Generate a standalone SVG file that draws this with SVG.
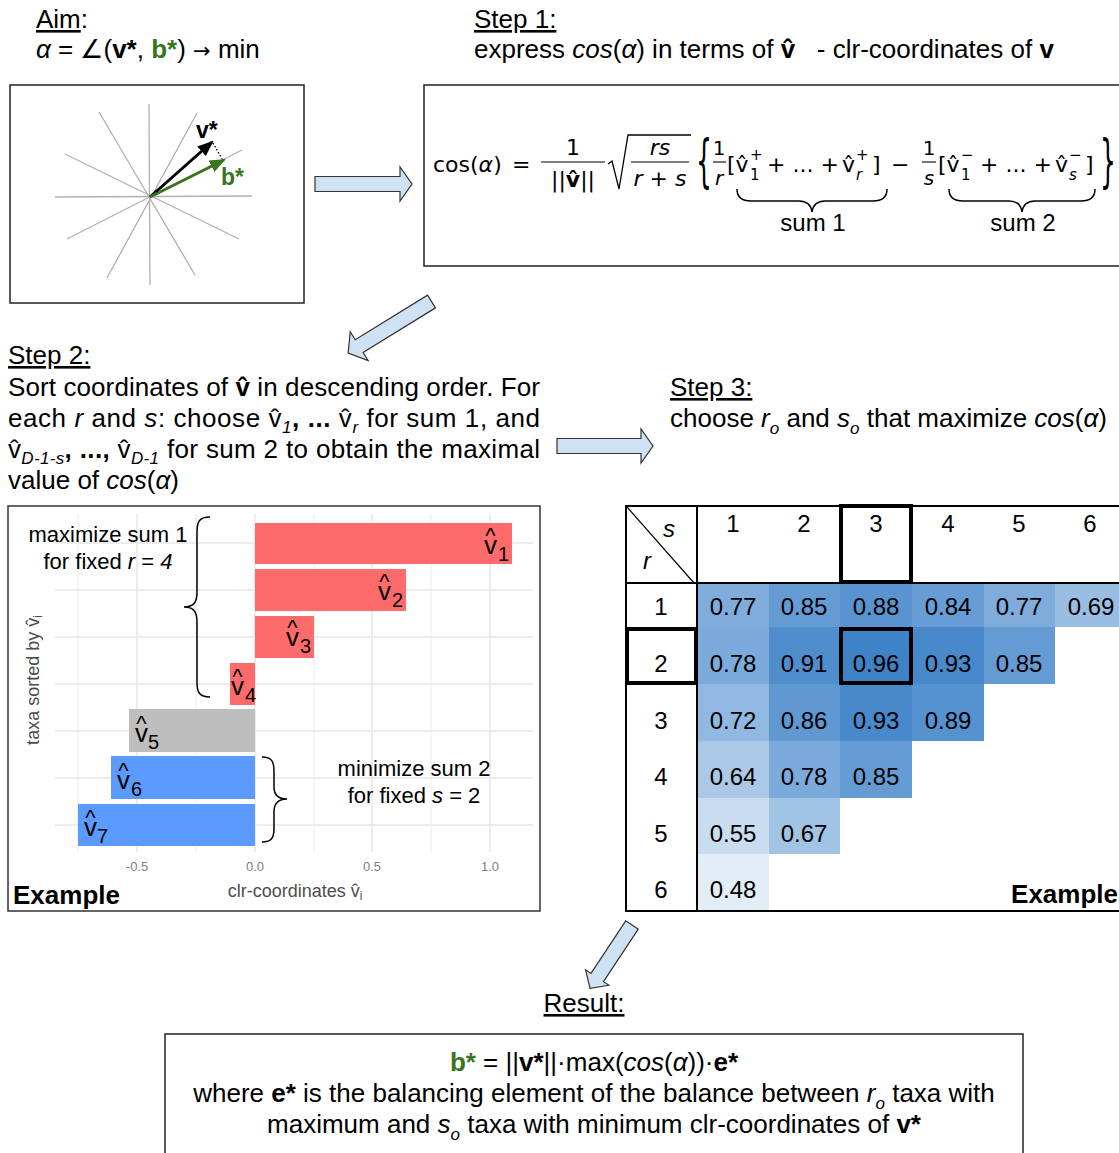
<svg xmlns="http://www.w3.org/2000/svg" width="1119" height="1153" viewBox="0 0 1119 1153">
  <defs>
    <style>
      text { font-family: "Liberation Sans", Arial, sans-serif; font-size: 26px; fill: #000; }
      .b { font-weight: bold; }
      .i { font-style: italic; }
      .g { fill: #38761d; }
      .sub { font-size: 17px; }
      .dv { font-family: "DejaVu Sans", Verdana, sans-serif; font-size: 21px; }
      .f { font-family: "DejaVu Sans", Verdana, sans-serif; font-size: 22px; }
      .fsm { font-family: "DejaVu Sans", Verdana, sans-serif; font-size: 20px; }
      .fs { font-family: "DejaVu Sans", Verdana, sans-serif; font-size: 15px; }
      .fb { font-family: "DejaVu Sans", Verdana, sans-serif; font-size: 25px; }
      .box { fill: none; stroke: #222; stroke-width: 1.5; }
      .arrow { fill: #cfe2f3; stroke: #333; stroke-width: 1.2; stroke-linejoin: miter; }
      .ray { stroke: #b0b0b0; stroke-width: 1.3; }
      .grid { stroke: #ececec; stroke-width: 1; }
      .gridM { stroke: #e6e6e6; stroke-width: 1.4; }
      .tick { font-size: 13px; fill: #808080; text-anchor: middle; }
      .axis { font-size: 18px; fill: #4d4d4d; }
      .lv { font-size: 26px; }
      .lh { font-size: 22px; }
      .ls { font-size: 20px; }
      .note { font-size: 22px; text-anchor: middle; }
      .vec { font-size: 23px; font-weight: bold; }
      .sum { font-size: 24px; text-anchor: middle; }
      .brace { fill: none; stroke: #000; stroke-width: 1.5; }
      .tbl { stroke: #000; stroke-width: 2; fill: none; }
      .hl { stroke: #000; stroke-width: 4; fill: none; }
      .num { font-size: 24px; text-anchor: middle; }
      .mid { text-anchor: middle; }
    </style>
    <marker id="headK" markerUnits="userSpaceOnUse" markerWidth="16" markerHeight="13" refX="14" refY="6.5" orient="auto">
      <path d="M0,0 L16,6.5 L0,13 Z" fill="#000"/>
    </marker>
    <marker id="headG" markerUnits="userSpaceOnUse" markerWidth="16" markerHeight="13" refX="14" refY="6.5" orient="auto">
      <path d="M0,0 L16,6.5 L0,13 Z" fill="#38761d"/>
    </marker>
  </defs>

  <rect width="1119" height="1153" fill="#fff"/>

  <!-- Aim -->
  <g id="aim">
    <text x="36" y="28"><tspan text-decoration="underline">Aim</tspan>:</text>
    <text x="36" y="58"><tspan class="i">α</tspan> = ∠(<tspan class="b">v*</tspan>, <tspan class="b g">b*</tspan>) <tspan class="dv">→</tspan> min</text>
    <rect class="box" x="10" y="85" width="294" height="218" stroke="#000"/>
    <line class="ray" x1="149" y1="104" x2="150" y2="285"/>
    <line class="ray" x1="55" y1="197" x2="252" y2="196"/>
    <line class="ray" x1="99" y1="112" x2="195" y2="275"/>
    <line class="ray" x1="65" y1="154" x2="239" y2="239"/>
    <line class="ray" x1="67" y1="239" x2="242" y2="150"/>
    <line class="ray" x1="107" y1="278" x2="197" y2="113"/>
    <line x1="213" y1="143" x2="222" y2="159" stroke="#000" stroke-width="1.3" stroke-dasharray="1.5,2"/>
    <line x1="150" y1="197" x2="212" y2="142" stroke="#000" stroke-width="3" marker-end="url(#headK)"/>
    <line x1="150" y1="197" x2="224" y2="160" stroke="#38761d" stroke-width="3" marker-end="url(#headG)"/>
    <text class="vec" x="196" y="138">v*</text>
    <text class="vec g" x="221" y="185">b*</text>
  </g>

  <!-- Step 1 -->
  <g id="step1">
    <text x="474" y="28" text-decoration="underline">Step 1:</text>
    <text x="474" y="58">express <tspan class="i">cos</tspan>(<tspan class="i">α</tspan>) in terms of <tspan class="b">v̂</tspan>&#160;&#160; - clr-coordinates of <tspan class="b">v</tspan></text>
    <rect class="box" x="424" y="85" width="710" height="181"/>
    <!-- cos(α) = 1/||v̂|| · sqrt(rs/(r+s)) · {…} -->
    <text class="f" x="433" y="172">cos(<tspan font-style="italic">α</tspan>)</text>
    <text class="f" x="512" y="172">=</text>
    <text class="f mid" x="573" y="155">1</text>
    <line x1="541" y1="162" x2="605" y2="162" stroke="#000" stroke-width="1.2"/>
    <text class="f mid" x="573" y="187">||<tspan font-weight="bold">v̂</tspan>||</text>
    <path d="M608,164 L612,161 L619,189 L628,135 L691,135" fill="none" stroke="#000" stroke-width="1.3"/>
    <text class="f mid i" x="660" y="155">rs</text>
    <line x1="631" y1="162" x2="689" y2="162" stroke="#000" stroke-width="1.2"/>
    <text class="f mid" x="660" y="186"><tspan font-style="italic">r</tspan> + <tspan font-style="italic">s</tspan></text>
    <text class="fb" transform="translate(696,180) scale(1,2.25)">{</text>
    <text class="fsm mid" x="719" y="155">1</text>
    <line x1="713" y1="162" x2="726" y2="162" stroke="#000" stroke-width="1.1"/>
    <text class="fsm mid i" x="719" y="185">r</text>
    <text class="f" x="727" y="172">[v̂</text>
    <text class="fs" x="750" y="160">+</text>
    <text class="fs" x="750" y="180">1</text>
    <text class="f" x="767" y="172">+ ... +</text>
    <text class="f" x="842" y="172">v̂</text>
    <text class="fs" x="856" y="160">+</text>
    <text class="fs" x="856" y="180" font-style="italic">r</text>
    <text class="f" x="872" y="172">]</text>
    <text class="f" x="891" y="172">−</text>
    <text class="fsm mid" x="929" y="155">1</text>
    <line x1="922" y1="162" x2="936" y2="162" stroke="#000" stroke-width="1.1"/>
    <text class="fsm mid i" x="929" y="185">s</text>
    <text class="f" x="938" y="172">[v̂</text>
    <text class="fs" x="961" y="160">−</text>
    <text class="fs" x="961" y="180">1</text>
    <text class="f" x="980" y="172">+ ... +</text>
    <text class="f" x="1055" y="172">v̂</text>
    <text class="fs" x="1069" y="160">−</text>
    <text class="fs" x="1069" y="180" font-style="italic">s</text>
    <text class="f" x="1085" y="172">]</text>
    <text class="fb" transform="translate(1100,180) scale(1,2.25)">}</text>
    <path class="brace" d="M737,189 C737,197 741,201 751,201 L799,201 C807,201 811,205 812,212 C813,205 817,201 825,201 L873,201 C883,201 887,197 887,189"/>
    <path class="brace" d="M949,189 C949,197 953,201 963,201 L1009,201 C1017,201 1021,205 1022,212 C1023,205 1027,201 1035,201 L1081,201 C1091,201 1095,197 1095,189"/>
    <text class="sum" x="813" y="231">sum 1</text>
    <text class="sum" x="1023" y="231">sum 2</text>
  </g>

  <!-- Step 2 -->
  <g id="step2">
    <text x="8" y="364" text-decoration="underline">Step 2:</text>
    <text x="8" y="396" textLength="532" lengthAdjust="spacing">Sort coordinates of <tspan class="b">v̂</tspan> in descending order. For</text>
    <text x="8" y="427" textLength="532" lengthAdjust="spacing">each <tspan class="i">r</tspan> and <tspan class="i">s</tspan>: choose v̂<tspan class="i sub" dy="6">1</tspan><tspan class="b" dy="-6">, ...</tspan> v̂<tspan class="i sub" dy="6">r</tspan><tspan dy="-6"> for sum 1, and</tspan></text>
    <text x="8" y="458" textLength="532" lengthAdjust="spacing">v̂<tspan class="i sub" dy="6">D-1-s</tspan><tspan class="b" dy="-6">, ...,</tspan> v̂<tspan class="i sub" dy="6">D-1</tspan><tspan dy="-6"> for sum 2 to obtain the maximal</tspan></text>
    <text x="8" y="489">value of <tspan class="i">cos</tspan>(<tspan class="i">α</tspan>)</text>
  </g>

  <!-- Step 2 example: sorted clr-coordinates -->
  <g id="barchart">
    <rect x="8" y="506" width="532" height="405" fill="#fff" stroke="#333" stroke-width="1.5"/>
    <g>
      <line class="grid" x1="78" y1="514" x2="78" y2="852"/>
      <line class="grid" x1="196" y1="514" x2="196" y2="852"/>
      <line class="grid" x1="314" y1="514" x2="314" y2="852"/>
      <line class="grid" x1="431" y1="514" x2="431" y2="852"/>
      <line class="gridM" x1="137" y1="514" x2="137" y2="852"/>
      <line class="gridM" x1="255" y1="514" x2="255" y2="852"/>
      <line class="gridM" x1="372" y1="514" x2="372" y2="852"/>
      <line class="gridM" x1="490" y1="514" x2="490" y2="852"/>
      <line class="gridM" x1="55" y1="543" x2="533" y2="543"/>
      <line class="gridM" x1="55" y1="590" x2="533" y2="590"/>
      <line class="gridM" x1="55" y1="637" x2="533" y2="637"/>
      <line class="gridM" x1="55" y1="684" x2="533" y2="684"/>
      <line class="gridM" x1="55" y1="731" x2="533" y2="731"/>
      <line class="gridM" x1="55" y1="778" x2="533" y2="778"/>
      <line class="gridM" x1="55" y1="825" x2="533" y2="825"/>
    </g>
    <rect x="255" y="523" width="257" height="41" fill="#ff6b6b"/>
    <rect x="255" y="569" width="151" height="42" fill="#ff6b6b"/>
    <rect x="255" y="616" width="59" height="42" fill="#ff6b6b"/>
    <rect x="230" y="663" width="25" height="42" fill="#ff6b6b"/>
    <rect x="129" y="709" width="126" height="43" fill="#bebebe"/>
    <rect x="111" y="756" width="144" height="43" fill="#5b9bff"/>
    <rect x="78" y="804" width="177" height="42" fill="#5b9bff"/>

    <g id="lab1"><text class="lv" x="484" y="554">v</text><text class="lh mid" x="490.5" y="543">^</text><text class="ls" x="498" y="561">1</text></g>
    <g id="lab2"><text class="lv" x="378" y="600">v</text><text class="lh mid" x="384.5" y="589">^</text><text class="ls" x="392" y="607">2</text></g>
    <g id="lab3"><text class="lv" x="286" y="646">v</text><text class="lh mid" x="292.5" y="635">^</text><text class="ls" x="300" y="653">3</text></g>
    <g id="lab4"><text class="lv" x="231" y="695">v</text><text class="lh mid" x="237.5" y="684">^</text><text class="ls" x="245" y="702">4</text></g>
    <g id="lab5"><text class="lv" x="135" y="742">v</text><text class="lh mid" x="141.5" y="731">^</text><text class="ls" x="148" y="749">5</text></g>
    <g id="lab6"><text class="lv" x="117" y="789">v</text><text class="lh mid" x="123.5" y="778">^</text><text class="ls" x="131" y="796">6</text></g>
    <g id="lab7"><text class="lv" x="84" y="836">v</text><text class="lh mid" x="90.5" y="825">^</text><text class="ls" x="97" y="843">7</text></g>

    <text class="tick" x="137" y="871">-0.5</text>
    <text class="tick" x="255" y="871">0.0</text>
    <text class="tick" x="372" y="871">0.5</text>
    <text class="tick" x="490" y="871">1.0</text>
    <text class="axis mid" x="295" y="897">clr-coordinates v̂<tspan font-size="12" dy="3">i</tspan></text>
    <text class="axis mid" transform="translate(39,680) rotate(-90)">taxa sorted by v̂<tspan font-size="12" dy="3">i</tspan></text>

    <path class="brace" d="M210,517 C199,517 197,522 197,532 L197,592 C197,602 194,607 184,607 C194,607 197,612 197,622 L197,682 C197,692 199,697 210,697"/>
    <path class="brace" d="M262,757 C272,757 274,762 274,771 L274,787 C274,795 278,799 287,799 C278,799 274,803 274,812 L274,829 C274,837 272,842 262,842"/>
    <text class="note" x="108" y="542">maximize sum 1</text>
    <text class="note" x="108" y="569">for fixed <tspan class="i">r</tspan> = <tspan class="i">4</tspan></text>
    <text class="note" x="414" y="776">minimize sum 2</text>
    <text class="note" x="414" y="803">for fixed <tspan class="i">s</tspan> = 2</text>
    <text class="b" x="13" y="904">Example</text>
  </g>

  <!-- Step 3 -->
  <g id="step3">
    <text x="670" y="396" text-decoration="underline">Step 3:</text>
    <text x="670" y="427">choose <tspan class="i">r</tspan><tspan class="i sub" dy="7">o</tspan><tspan dy="-7"> and </tspan><tspan class="i">s</tspan><tspan class="i sub" dy="7">o</tspan><tspan dy="-7"> that maximize </tspan><tspan class="i">cos</tspan>(<tspan class="i">α</tspan>)</text>
  </g>

  <!-- Step 3 example: cos(α) for every r, s -->
  <g id="table">
    <g id="cells">
      <rect x="697" y="584" width="72" height="43" fill="#7facdb"/>
      <rect x="769" y="584" width="71" height="43" fill="#649bd3"/>
      <rect x="840" y="584" width="72" height="43" fill="#5994d0"/>
      <rect x="912" y="584" width="72" height="43" fill="#679dd4"/>
      <rect x="984" y="584" width="71" height="43" fill="#7facdb"/>
      <rect x="1055" y="584" width="70" height="43" fill="#9abee2"/>
      <rect x="697" y="627" width="72" height="57" fill="#7caada"/>
      <rect x="769" y="627" width="71" height="57" fill="#4f8dcd"/>
      <rect x="840" y="627" width="72" height="57" fill="#3e82c8"/>
      <rect x="912" y="627" width="72" height="57" fill="#4889cb"/>
      <rect x="984" y="627" width="71" height="57" fill="#649bd3"/>
      <rect x="697" y="684" width="72" height="57" fill="#90b8e0"/>
      <rect x="769" y="684" width="71" height="57" fill="#6098d2"/>
      <rect x="840" y="684" width="72" height="57" fill="#4889cb"/>
      <rect x="912" y="684" width="72" height="57" fill="#5692cf"/>
      <rect x="697" y="741" width="72" height="57" fill="#abc9e7"/>
      <rect x="769" y="741" width="71" height="57" fill="#7caada"/>
      <rect x="840" y="741" width="72" height="57" fill="#649bd3"/>
      <rect x="697" y="798" width="72" height="56" fill="#caddf0"/>
      <rect x="769" y="798" width="71" height="56" fill="#a1c3e4"/>
      <rect x="697" y="854" width="72" height="57" fill="#e2edf7"/>
    </g>
    <path class="tbl" d="M626,506 L1125,506 M626,583 L1125,583 M626,911 L1125,911 M626,505 L626,912 M697,505 L697,912"/>
    <line x1="627" y1="507" x2="694" y2="583" stroke="#000" stroke-width="1.2"/>
    <text class="num i" x="669" y="537">s</text>
    <text class="num i" x="647" y="569">r</text>
    <g id="colhead">
      <text class="num" x="733" y="532">1</text>
      <text class="num" x="804" y="532">2</text>
      <text class="num" x="876" y="532">3</text>
      <text class="num" x="948" y="532">4</text>
      <text class="num" x="1019" y="532">5</text>
      <text class="num" x="1090" y="532">6</text>
    </g>
    <g id="rowhead">
      <text class="num" x="661" y="615">1</text>
      <text class="num" x="661" y="672">2</text>
      <text class="num" x="661" y="729">3</text>
      <text class="num" x="661" y="785">4</text>
      <text class="num" x="661" y="842">5</text>
      <text class="num" x="661" y="898">6</text>
    </g>
    <g id="values">
      <text class="num" x="733" y="615">0.77</text>
      <text class="num" x="804" y="615">0.85</text>
      <text class="num" x="876" y="615">0.88</text>
      <text class="num" x="948" y="615">0.84</text>
      <text class="num" x="1019" y="615">0.77</text>
      <text class="num" x="1091" y="615">0.69</text>
      <text class="num" x="733" y="672">0.78</text>
      <text class="num" x="804" y="672">0.91</text>
      <text class="num" x="876" y="672">0.96</text>
      <text class="num" x="948" y="672">0.93</text>
      <text class="num" x="1019" y="672">0.85</text>
      <text class="num" x="733" y="729">0.72</text>
      <text class="num" x="804" y="729">0.86</text>
      <text class="num" x="876" y="729">0.93</text>
      <text class="num" x="948" y="729">0.89</text>
      <text class="num" x="733" y="785">0.64</text>
      <text class="num" x="804" y="785">0.78</text>
      <text class="num" x="876" y="785">0.85</text>
      <text class="num" x="733" y="842">0.55</text>
      <text class="num" x="804" y="842">0.67</text>
      <text class="num" x="733" y="898">0.48</text>
    </g>
    <rect class="hl" x="841" y="506" width="70" height="76"/>
    <rect class="hl" x="627" y="629" width="69" height="54"/>
    <rect class="hl" x="841" y="629" width="70" height="54"/>
    <text class="b" x="1118" y="903" text-anchor="end">Example</text>
  </g>

  <!-- Result -->
  <g id="result">
    <text class="mid" x="584" y="1012" text-decoration="underline">Result:</text>
    <rect class="box" x="165" y="1034" width="858" height="130"/>
    <text class="mid" x="594" y="1071"><tspan class="b g">b*</tspan> = ||<tspan class="b">v*</tspan>||·max(<tspan class="i">cos</tspan>(<tspan class="i">α</tspan>))·<tspan class="b">e*</tspan></text>
    <text class="mid" x="594" y="1102">where <tspan class="b">e*</tspan> is the balancing element of the balance between <tspan class="i">r</tspan><tspan class="i sub" dy="7">o</tspan><tspan dy="-7"> taxa with</tspan></text>
    <text class="mid" x="594" y="1133">maximum and <tspan class="i">s</tspan><tspan class="i sub" dy="7">o</tspan><tspan dy="-7"> taxa with minimum clr-coordinates of </tspan><tspan class="b">v*</tspan></text>
  </g>

  <!-- block arrows between the steps -->
  <g id="connectors">
    <polygon class="arrow" transform="translate(315,184)" points="0,-7.5 85,-7.5 85,-17 97,0 85,17 85,7.5 0,7.5"/>
    <polygon class="arrow" transform="translate(431.5,301.5) rotate(148.3)" points="0,-7.5 85,-7.5 85,-17 98,0 85,17 85,7.5 0,7.5"/>
    <polygon class="arrow" transform="translate(557,446)" points="0,-7.5 84,-7.5 84,-17 96,0 84,17 84,7.5 0,7.5"/>
    <polygon class="arrow" transform="translate(632,925) rotate(123.5)" points="0,-7.5 63,-7.5 63,-14 76,0 63,14 63,7.5 0,7.5"/>
  </g>
</svg>
